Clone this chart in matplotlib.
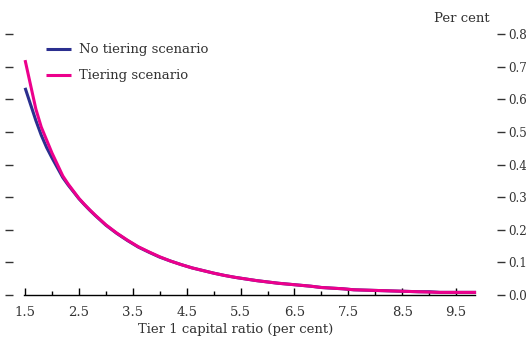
import matplotlib
matplotlib.use("Agg")
import matplotlib.pyplot as plt
import matplotlib.transforms as mtransforms
from matplotlib.ticker import FixedLocator

# Data
x_tier = [1.5, 1.6, 1.7, 1.8, 1.9, 2.0, 2.1, 2.2, 2.3, 2.4, 2.5, 2.6, 2.7, 2.8, 2.9,
          3.0, 3.2, 3.4, 3.6, 3.8, 4.0, 4.2, 4.4, 4.6, 4.8, 5.0, 5.2, 5.4, 5.6, 5.8,
          6.0, 6.2, 6.4, 6.6, 6.8, 7.0, 7.2, 7.4, 7.6, 7.8, 8.0, 8.2, 8.4, 8.6, 8.8,
          9.0, 9.2, 9.4, 9.6, 9.87]
tiering = [0.72, 0.645, 0.57, 0.515, 0.475, 0.435, 0.40, 0.365, 0.340, 0.318, 0.296,
           0.278, 0.261, 0.245, 0.230, 0.215, 0.190, 0.168, 0.148, 0.132, 0.117, 0.104,
           0.093, 0.083, 0.075, 0.067, 0.060, 0.054, 0.049, 0.044, 0.040, 0.036, 0.033,
           0.030, 0.027, 0.023, 0.021, 0.019, 0.016, 0.015, 0.014, 0.013, 0.012, 0.011,
           0.010, 0.009, 0.008, 0.008, 0.008, 0.008]

x_none = x_tier
no_tiering = [0.635, 0.585, 0.535, 0.49, 0.452, 0.42, 0.39, 0.36, 0.337, 0.316, 0.295,
              0.277, 0.260, 0.244, 0.229, 0.214, 0.189, 0.167, 0.147, 0.131, 0.116, 0.104,
              0.093, 0.083, 0.075, 0.067, 0.060, 0.054, 0.049, 0.044, 0.040, 0.036, 0.033,
              0.030, 0.027, 0.023, 0.021, 0.019, 0.016, 0.015, 0.014, 0.013, 0.012, 0.011,
              0.010, 0.010, 0.008, 0.008, 0.008, 0.008]

x_ticks = [1.5, 2.5, 3.5, 4.5, 5.5, 6.5, 7.5, 8.5, 9.5]
x_ticklabels = ["1.5", "2.5", "3.5", "4.5", "5.5", "6.5", "7.5", "8.5", "9.5"]
x_minor = [2.0, 3.0, 4.0, 5.0, 6.0, 7.0, 8.0, 9.0]
y_ticks = [0.0, 0.1, 0.2, 0.3, 0.4, 0.5, 0.6, 0.7, 0.8]
y_ticklabels = ["0.0", "0.1", "0.2", "0.3", "0.4", "0.5", "0.6", "0.7", "0.8"]

NAVY = "#2b2f8f"
PINK = "#ec008c"
TXT = "#333333"

plt.rcParams['font.family'] = ['DejaVu Serif']
plt.rcParams['font.size'] = 9.5

fig = plt.figure(figsize=(5.26, 3.40), dpi=100)
ax = fig.add_axes([24/526, 45/340, 451/526, 261/340])

ax.plot(x_none, no_tiering, color=NAVY, lw=2.2, label="No tiering scenario",
        solid_capstyle='butt', clip_on=False)
ax.plot(x_tier, tiering, color=PINK, lw=2.2, label="Tiering scenario",
        solid_capstyle='butt', clip_on=False)

ax.set_xlim(1.48, 9.85)
ax.set_ylim(0, 0.8)

for s in ['top', 'right', 'left']:
    ax.spines[s].set_visible(False)
ax.spines['bottom'].set_color('black')
ax.spines['bottom'].set_linewidth(1.0)

ax.xaxis.set_major_locator(FixedLocator(x_ticks))
ax.set_xticklabels(x_ticklabels, color=TXT)
ax.xaxis.set_minor_locator(FixedLocator(x_minor))
ax.tick_params(axis='x', which='major', direction='in', length=5, width=1, pad=8,
               labelsize=9.5)
ax.tick_params(axis='x', which='minor', direction='in', length=3, width=1)

ax.yaxis.set_major_locator(FixedLocator(y_ticks))
ax.tick_params(axis='y', which='both', left=True, right=True, labelleft=False,
               labelright=True, direction='out', length=6, width=1, pad=2.2,
               labelsize=8.6, colors=TXT)
ax.set_yticklabels(y_ticklabels)

off_left = mtransforms.ScaledTranslation(-11/100, 0, fig.dpi_scale_trans)
off_right = mtransforms.ScaledTranslation(22/100, 0, fig.dpi_scale_trans)
for t in ax.yaxis.get_major_ticks():
    t.tick1line.set_transform(t.tick1line.get_transform() + off_left)
    t.tick2line.set_transform(t.tick2line.get_transform() + off_right)
    t.label2.set_transform(t.label2.get_transform() + off_right)

ax.set_xlabel("Tier 1 capital ratio (per cent)", color=TXT, fontsize=9.5, labelpad=4)
ax.xaxis.set_label_coords((236 - 24) / 451, -(330 - 295) / 261, transform=ax.transAxes)
ax.xaxis.label.set_va('center')

fig.text(490/526, 1 - 19/340, "Per cent", ha='right', va='center', color=TXT,
         fontsize=9.5)

leg = ax.legend(loc='upper left', bbox_to_anchor=(0.022, 1.01), frameon=False,
                handlelength=1.9, handletextpad=0.6, labelspacing=1.0,
                fontsize=9.5)
for txt in leg.get_texts():
    txt.set_color(TXT)

fig.savefig("out.png", dpi=100)
